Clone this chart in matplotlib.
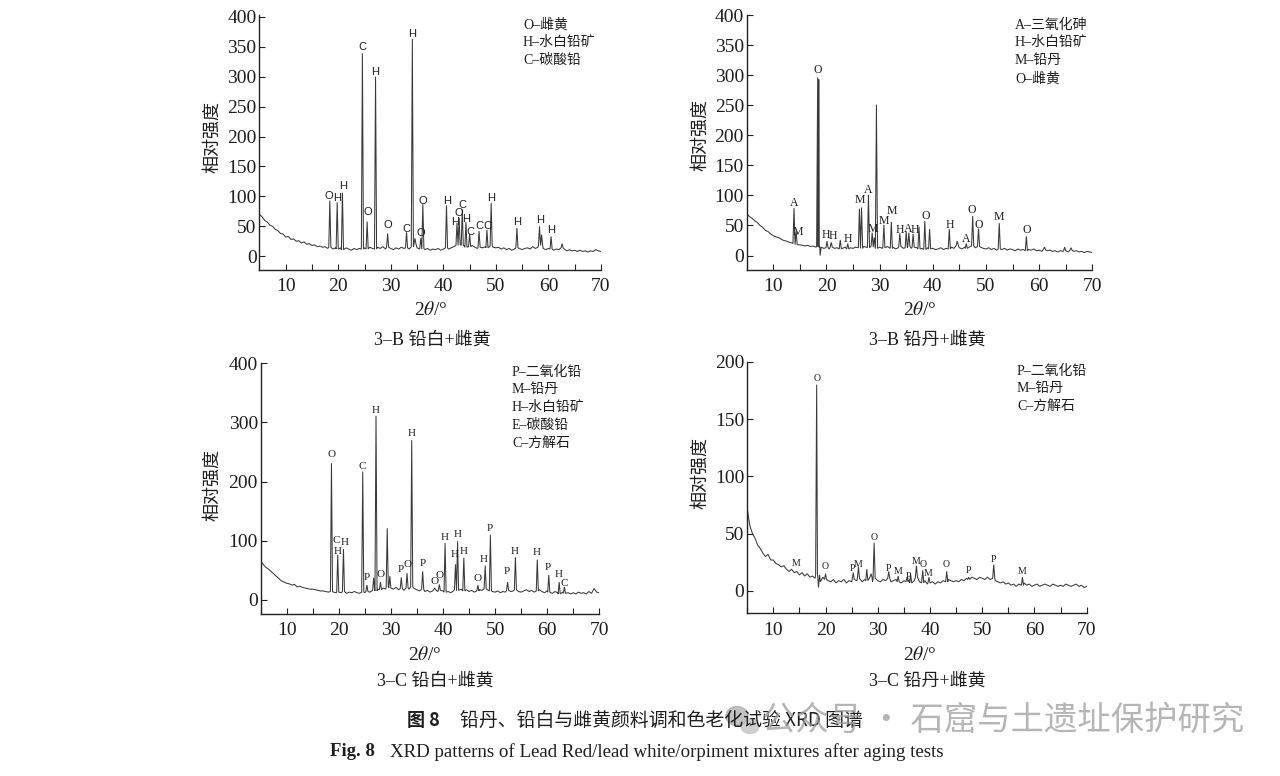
import numpy as np
import matplotlib
matplotlib.use("Agg")
import matplotlib.pyplot as plt
from matplotlib.ticker import MultipleLocator
from matplotlib.patches import Ellipse

# ---------------- data ----------------
# background samples every 0.5 deg from 5.0 to 70.0 (rows of 5 deg)
bg_1 = [70,66,60,57,52,50,45,43,38,37,
        32,33,28,29,25,26,22,24,20,21,
        18,19,16,17,15,16,13,15,12,14,
        12,14,11,14,12,10,13,11,13,12,
        14,12,15,13,12,15,13,16,12,15,
        13,11,14,12,15,13,14,12,16,20,
        14,12,13,11,13,10,12,11,13,10,
        12,14,12,14,16,18,20,18,17,15,
        16,18,15,13,15,14,16,14,17,15,
        14,15,12,14,11,13,10,12,14,13,
        11,13,14,12,16,13,15,18,13,11,
        13,12,10,12,11,14,12,9,11,9,
        10,8,10,8,9,7,9,8,11,9,
        8]
peaks_x_1 = [18.4, 19.8, 20.8, 24.6, 25.5, 27.1, 29.4, 33.0, 34.1, 34.6, 35.7, 36.1,
             40.6, 42.6, 43.0, 43.6, 44.3, 45.0, 46.8, 48.3, 49.1, 54.0, 58.3, 58.7,
             60.5, 62.6]
peaks_y_1 = [93, 90, 106, 339, 58, 300, 38, 40, 363, 30, 30, 87,
             85, 56, 64, 78, 57, 37, 42, 44, 89, 47, 50, 36,
             33, 21]
labels_1 = ["O", "H", "H", "C", "O", "H", "O", "C", "H", "O", "O", "H", "H", "O", "C",
            "H", "C", "C", "C", "H", "H", "H", "H"]
label_x_1 = [18.3, 19.8, 20.9, 24.6, 25.6, 27.1, 29.5, 33.0, 34.0, 35.7, 36.1, 40.7, 42.3,
             43.0, 43.7, 44.4, 45.1, 46.8, 48.4, 49.1, 54.0, 58.4, 60.5]
label_y_1 = [101, 97, 117, 349, 74, 308, 52, 46, 372, 39, 93, 93, 57, 72, 86, 62, 41, 50,
             51, 97, 57, 60, 43]
legend_1 = ["O–雌黄", "H–水白铅矿", "C–碳酸铅"]

bg_2 = [70,65,62,58,55,50,47,42,40,36,
        33,31,30,27,25,24,22,21,20,18,
        18,17,16,17,15,16,14,15,14,12,
        13,11,14,12,13,11,12,14,11,13,
        12,14,13,12,15,14,13,16,14,12,
        14,12,13,15,12,14,11,13,15,12,
        13,15,12,14,13,11,12,10,13,11,
        12,10,11,13,10,12,11,14,12,17,
        13,11,14,12,15,16,13,15,14,12,
        11,13,10,12,9,11,10,12,9,11,
        10,8,11,9,10,8,10,9,11,8,
        9,7,10,8,9,7,8,6,8,7,
        8,6,9,7,8,6,7,5,7,6,
        5]
peaks_x_2 = [13.9, 14.3, 18.35, 18.55, 18.8, 20.1, 20.9, 22.6, 24.0, 26.2, 26.6, 27.9,
             28.6, 29.0, 29.4, 30.8, 32.2, 33.8, 35.0, 35.5, 36.3, 37.4, 38.5, 39.4,
             43.1, 44.6, 46.3, 47.5, 48.6, 52.5, 57.6, 61.0, 64.8, 66.0]
peaks_y_2 = [79, 40, 296, 293, 0, 24, 22, 26, 20, 78, 80, 101,
             38, 30, 251, 51, 56, 37, 40, 38, 36, 48, 57, 44,
             44, 24, 20, 66, 45, 54, 32, 14, 14, 13]
labels_2 = ["A", "M", "O", "H", "H", "H", "M", "A", "M", "M", "M", "H", "A", "H", "O",
            "H", "A", "O", "O", "M", "O"]
label_x_2 = [13.9, 14.7, 18.3, 19.95, 21.2, 24.1, 26.3, 27.9, 28.7, 30.8, 32.3, 33.8, 35.3,
             36.6, 38.6, 43.2, 46.2, 47.4, 48.6, 52.5, 57.6]
label_y_2 = [88, 40, 309, 34, 32, 27, 93, 109, 44, 58, 74, 43, 44, 43, 66, 51, 27, 76,
             51, 64, 43]
legend_2 = ["A–三氧化砷", "H–水白铅矿", "M–铅丹", "O–雌黄"]

bg_3 = [65,60,55,52,48,44,40,36,32,30,
        28,27,25,26,22,23,21,20,19,18,
        18,17,16,15,15,14,13,14,13,12,
        13,12,14,11,13,12,14,12,11,13,
        12,14,13,16,15,18,17,20,18,22,
        20,18,21,17,19,16,20,18,22,19,
        17,15,18,14,16,13,15,17,14,16,
        15,13,14,12,15,17,16,18,15,17,
        14,16,13,15,17,16,19,17,15,14,
        13,15,12,14,13,16,14,15,17,14,
        13,15,17,14,16,13,15,17,14,12,
        15,13,11,14,12,10,13,11,12,10,
        12,10,13,11,12,10,14,11,19,13,
        12]
peaks_x_3 = [18.6, 19.8, 20.9, 24.6, 25.4, 26.7, 27.15, 28.0, 29.3, 29.8, 32.0, 33.1,
             34.0, 36.1, 38.4, 39.3, 40.4, 42.4, 42.8, 44.0, 46.7, 48.1, 49.1, 52.4,
             53.9, 58.1, 60.3, 62.3, 63.3]
peaks_y_3 = [231, 76, 86, 217, 25, 37, 311, 30, 121, 40, 38, 45,
             270, 48, 20, 26, 96, 60, 99, 71, 25, 58, 110, 30,
             72, 68, 42, 30, 22]
labels_3 = ["O", "C", "H", "H", "C", "P", "H", "O", "P", "O", "H", "P", "O", "O", "H", "H",
            "H", "H", "O", "H", "P", "P", "H", "H", "P", "H", "C"]
label_x_3 = [18.6, 19.6, 21.2, 19.8, 24.6, 25.35, 27.15, 28.0, 31.9, 33.2, 34.0, 36.1, 38.3,
             39.4, 40.4, 42.3, 42.75, 44.0, 46.6, 47.75, 49.0, 52.2, 53.7, 58.0, 60.1,
             62.3, 63.2]
label_y_3 = [245, 101, 97, 81, 225, 37, 320, 42, 52, 60, 282, 62, 31, 41, 105, 76, 111,
             81, 36, 68, 121, 48, 82, 80, 55, 42, 27]
legend_3 = ["P–二氧化铅", "M–铅丹", "H–水白铅矿", "E–碳酸铅", "C–方解石"]

bg_4 = [72,57,50,46,40,37,33,30,32,27,
        27,24,23,21,22,19,17,19,16,17,
        14,16,13,15,12,13,11,14,8,12,
        10,9,8,10,7,9,8,10,7,9,
        8,10,9,11,8,10,9,12,8,11,
        9,8,10,9,11,8,9,10,8,7,
        9,8,10,7,9,12,8,7,9,6,
        7,8,6,8,7,9,8,10,9,8,
        9,8,10,9,11,10,12,11,10,12,
        11,10,12,10,11,9,8,7,8,6,
        7,5,6,4,6,5,7,5,6,4,
        5,6,4,5,6,5,4,6,5,4,
        5,4,6,5,4,5,6,4,5,3,
        4]
peaks_x_4 = [18.3, 18.65, 20.0, 25.3, 26.3, 27.9, 28.7, 29.3, 32.1, 33.9, 35.6, 36.3,
             37.4, 38.6, 39.8, 43.2, 47.4, 52.2, 57.7]
peaks_y_4 = [180, 3, 15, 16, 21, 19, 15, 42, 17, 13, 12, 14,
             22, 18, 12, 17, 12, 23, 12]
labels_4 = ["O", "M", "O", "P", "M", "O", "P", "M", "P", "M", "O", "M", "O", "P", "P", "M"]
label_x_4 = [18.3, 14.3, 20.0, 25.2, 26.3, 29.3, 32.1, 33.9, 35.9, 37.4, 38.65, 39.7,
             43.1, 47.3, 52.1, 57.7]
label_y_4 = [185, 24, 21, 20, 23, 47, 20, 17, 13, 26, 23, 15, 23, 18, 27, 17]
legend_4 = ["P–二氧化铅", "M–铅丹", "C–方解石"]

subtitles = ["3–B 铅白+雌黄", "3–B 铅丹+雌黄", "3–C 铅白+雌黄", "3–C 铅丹+雌黄"]
ylabel_text = "相对强度"
xlabel_text = "2$\\theta$/°"
x_ticks = [10, 20, 30, 40, 50, 60, 70]
y_ticks_big = [0, 50, 100, 150, 200, 250, 300, 350, 400]
y_ticks_3 = [0, 100, 200, 300, 400]
y_ticks_4 = [0, 50, 100, 150, 200]

# ---------------- style ----------------
SERIF = ["Liberation Serif", "Noto Sans CJK SC"]
CJK = ["Noto Sans CJK SC", "Liberation Serif"]
plt.rcParams["mathtext.fontset"] = "stix"
plt.rcParams["font.family"] = SERIF

W, H = 1280, 776
fig = plt.figure(figsize=(W / 100, H / 100), dpi=100)
fig.patch.set_facecolor("white")
LINE = "#3a3a3a"
TXT = "#1e1e1e"


def px_axes(left, right, top, bottom):
    return fig.add_axes([left / W, 1 - bottom / H, (right - left) / W, (bottom - top) / H])


def ft(x, y, s, **kw):
    return fig.text(x / W, 1 - y / H, s, **kw)


def build_profile(bg, px, py, half=0.2):
    xs = 5.0 + 0.5 * np.arange(len(bg))
    pts = []
    for xv, yv in zip(xs, bg):
        if all(abs(xv - p) > half for p in px):
            pts.append((xv, yv))
    for p, h in zip(px, py):
        base = bg[int(round((p - 5.0) / 0.5))]
        pts += [(p - half, base), (p, h), (p + half, base)]
    pts.sort(key=lambda t: t[0])
    return [t[0] for t in pts], [t[1] for t in pts]


def style_axes(ax, ylim, yticks):
    ax.set_xlim(5, 70)
    ax.set_ylim(*ylim)
    for s in ["top", "right"]:
        ax.spines[s].set_visible(False)
    for s in ["left", "bottom"]:
        ax.spines[s].set_linewidth(1.0)
        ax.spines[s].set_color("#222222")
    ax.set_xticks(x_ticks)
    ax.xaxis.set_minor_locator(MultipleLocator(5))
    ax.set_yticks(yticks)
    ax.tick_params(axis="both", which="both", direction="in", length=4, width=0.8,
                   colors="#222222", labelcolor=TXT, labelsize=14)
    ax.tick_params(axis="x", pad=6)
    ax.tick_params(axis="y", pad=2)
    for lab in ax.get_xticklabels() + ax.get_yticklabels():
        lab.set_family("Liberation Serif")
    ax.patch.set_alpha(0)


panels = [
    dict(box=(259.4, 601, 15, 270), ylim=(-23, 403), yt=y_ticks_big, bg=bg_1, px=peaks_x_1,
         py=peaks_y_1, lab=labels_1, lx=label_x_1, ly=label_y_1, leg=legend_1,
         lfam=["Liberation Sans"], lsize=8, legxy=(523, 25), ylab=(212, 137),
         xl=(431, 310), sub=(432, 340)),
    dict(box=(746.7, 1092.3, 15, 270), ylim=(-24, 400), yt=y_ticks_big, bg=bg_2, px=peaks_x_2,
         py=peaks_y_2, lab=labels_2, lx=label_x_2, ly=label_y_2, leg=legend_2,
         lfam=["Liberation Serif"], lsize=8.5, legxy=(1015, 25), ylab=(700, 135),
         xl=(920, 310), sub=(927, 340)),
    dict(box=(260.6, 599.3, 363.3, 614), ylim=(-24, 400), yt=y_ticks_3, bg=bg_3, px=peaks_x_3,
         py=peaks_y_3, lab=labels_3, lx=label_x_3, ly=label_y_3, leg=legend_3,
         lfam=["Liberation Serif"], lsize=8, legxy=(512, 372), ylab=(212, 485),
         xl=(425, 655), sub=(435, 681)),
    dict(box=(747.2, 1086.7, 361.7, 613.3), ylim=(-19.5, 200), yt=y_ticks_4, bg=bg_4,
         px=peaks_x_4, py=peaks_y_4, lab=labels_4, lx=label_x_4, ly=label_y_4, leg=legend_4,
         lfam=["Liberation Serif"], lsize=7, legxy=(1017, 371), ylab=(700, 473),
         xl=(920, 655), sub=(927, 681)),
]

for P in panels:
    ax = px_axes(*P["box"])
    xs, ys = build_profile(P["bg"], P["px"], P["py"])
    ax.plot(xs, ys, color=LINE, lw=0.75, solid_joinstyle="miter")
    style_axes(ax, P["ylim"], P["yt"])
    for t, x, y in zip(P["lab"], P["lx"], P["ly"]):
        ax.text(x, y, t, ha="center", va="center", fontsize=P["lsize"],
                family=P["lfam"], color=TXT)
    lx0, ly0 = P["legxy"]
    for i, s in enumerate(P["leg"]):
        ft(lx0, ly0 + 17.8 * i, s, ha="left", va="center", fontsize=10, family=SERIF,
           color=TXT)
    ft(P["ylab"][0], P["ylab"][1], ylabel_text, rotation=90, ha="center", va="center",
       fontsize=13, family=CJK, color=TXT)
    ft(P["xl"][0], P["xl"][1], xlabel_text, ha="center", va="center", fontsize=14,
       family=SERIF, color=TXT)

for P, s in zip(panels, subtitles):
    ft(P["sub"][0], P["sub"][1], s, ha="center", va="center", fontsize=13, family=SERIF,
       color=TXT)

# captions
ft(407, 720, "图 8", ha="left", va="center", fontsize=13, family=CJK, weight="bold",
   color=TXT)
ft(460, 720, "铅丹、铅白与雌黄颜料调和色老化试验 XRD 图谱", ha="left", va="center",
   fontsize=13.6, family=CJK, color=TXT)
ft(330, 752, "Fig. 8", ha="left", va="center", fontsize=13.5, family=SERIF, weight="bold",
   color=TXT)
ft(390, 752, "XRD patterns of Lead Red/lead white/orpiment mixtures after aging tests",
   ha="left", va="center", fontsize=13.6, family=SERIF, color=TXT)

# watermark
ft(762, 720, "公众号 · 石窟与土遗址保护研究", ha="left", va="center", fontsize=24,
   family=CJK, color="#9c9c9c", alpha=0.75)
fig.add_artist(Ellipse((737 / W, 1 - 716 / H), 22 / W, 19 / H, transform=fig.transFigure,
                       color="#a8a8a8", alpha=0.7))
fig.add_artist(Ellipse((750 / W, 1 - 726 / H), 18 / W, 15 / H, transform=fig.transFigure,
                       color="#bdbdbd", alpha=0.7))

fig.savefig("out.png", dpi=100, facecolor="white")
